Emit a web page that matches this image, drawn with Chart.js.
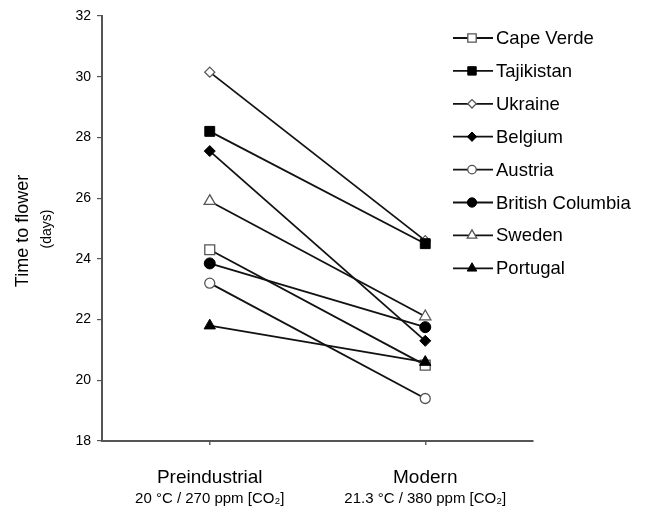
<!DOCTYPE html>
<html>
<head>
<meta charset="utf-8">
<script src="https://cdn.jsdelivr.net/npm/chart.js@4/dist/chart.umd.min.js"></script>
<style>
  html, body { margin: 0; padding: 0; background: #fff; }
  #wrap { width: 646px; height: 510px; }
</style>
</head>
<body>
<div id="wrap"><canvas id="flowerChart" width="646" height="510"></canvas></div>
<script>
// --- Data ---
const periods = ['Preindustrial', 'Modern'];
const conditions = ['20 °C / 270 ppm [CO₂]', '21.3 °C / 380 ppm [CO₂]'];
const yTicks = [18, 20, 22, 24, 26, 28, 30, 32];

const capeVerde = [24.3, 20.5];
const tajikistan = [28.2, 24.5];
const ukraine = [30.15, 24.6];
const belgium = [27.55, 21.3];
const austria = [23.2, 19.4];
const britishColumbia = [23.85, 21.75];
const sweden = [25.9, 22.1];
const portugal = [21.8, 20.6];

const FONT = "'Liberation Sans', Arial, Helvetica, sans-serif";

// marker look per country: [name, values, pointStyle, filled, radius]
const series = [
    ['Cape Verde', capeVerde, 'rect', false, 7],
    ['Tajikistan', tajikistan, 'rect', true, 7],
    ['Ukraine', ukraine, 'rectRot', false, 5],
    ['Belgium', belgium, 'rectRot', true, 5.5],
    ['Austria', austria, 'circle', false, 5],
    ['British Columbia', britishColumbia, 'circle', true, 5.5],
    ['Sweden', sweden, 'triangle', false, 6.5],
    ['Portugal', portugal, 'triangle', true, 6.5]
];

const datasets = series.map((s, i) => ({
    label: s[0],
    data: s[1],
    order: i === 7 ? -1 : 0, // Portugal sits on top of Cape Verde
    borderColor: '#111',
    borderWidth: 1.8,
    pointStyle: s[2],
    pointRadius: s[4],
    pointHoverRadius: s[4],
    pointBackgroundColor: s[3] ? '#000' : '#fff',
    pointBorderColor: s[3] ? '#000' : '#555',
    pointBorderWidth: s[3] ? 1 : 1.3,
    tension: 0,
    fill: false
}));

// --- Custom text + legend ---
const extras = {
    id: 'extras',
    afterDraw(chart) {
        const ctx = chart.ctx;
        const xs = chart.scales.x;
        ctx.save();
        ctx.fillStyle = '#000';
        ctx.textAlign = 'center';
        ctx.textBaseline = 'middle';
        periods.forEach((p, i) => {
            const x = xs.getPixelForTick(i);
            ctx.font = '19px ' + FONT;
            ctx.fillText(p, x, 478);
            ctx.font = '15px ' + FONT;
            ctx.fillText(conditions[i], x, 499);
        });

        // y title
        ctx.save();
        ctx.translate(23, 231);
        ctx.rotate(-Math.PI / 2);
        ctx.font = '18px ' + FONT;
        ctx.fillText('Time to flower', 0, 0);
        ctx.restore();
        ctx.save();
        ctx.translate(47, 229);
        ctx.rotate(-Math.PI / 2);
        ctx.font = '14px ' + FONT;
        ctx.fillText('(days)', 0, 0);
        ctx.restore();

        // legend
        ctx.textAlign = 'left';
        ctx.font = '18.5px ' + FONT;
        chart.data.datasets.forEach((ds, i) => {
            const y = 38 + i * 32.9;
            ctx.strokeStyle = '#111';
            ctx.lineWidth = 1.8;
            ctx.beginPath();
            ctx.moveTo(453, y);
            ctx.lineTo(493, y);
            ctx.stroke();
            ctx.fillStyle = ds.pointBackgroundColor;
            ctx.strokeStyle = ds.pointBorderColor;
            ctx.lineWidth = ds.pointBorderWidth;
            Chart.helpers.drawPoint(ctx, {
                pointStyle: ds.pointStyle, rotation: 0,
                radius: ds.pointRadius * 0.85, borderWidth: ds.pointBorderWidth
            }, 472, y);
            ctx.fillStyle = '#000';
            ctx.fillText(ds.label, 496, y + 1);
        });
        ctx.restore();
    }
};

new Chart(document.getElementById('flowerChart'), {
    type: 'line',
    data: { labels: periods, datasets: datasets },
    options: {
        responsive: false,
        animation: false,
        layout: { padding: { top: 16, right: 113, left: 0, bottom: 0 } },
        plugins: { legend: { display: false }, tooltip: { enabled: false } },
        scales: {
            x: {
                type: 'category',
                offset: true,
                grid: { offset: false, drawOnChartArea: false, drawTicks: true, tickLength: 4, color: '#666', lineWidth: 1.5 },
                border: { color: '#555', width: 2 },
                ticks: { display: false },
                afterFit(scale) { scale.height = 69; }
            },
            y: {
                min: 18, max: 32,
                afterBuildTicks(scale) { scale.ticks = yTicks.map(v => ({ value: v })); },
                grid: { drawOnChartArea: false, drawTicks: true, tickLength: 5, color: '#555', lineWidth: 1.2 },
                border: { color: '#555', width: 2 },
                ticks: { color: '#000', font: { family: FONT, size: 14 }, padding: 6 },
                afterFit(scale) { scale.width = 102; }
            }
        }
    },
    plugins: [extras]
});
</script>
</body>
</html>
